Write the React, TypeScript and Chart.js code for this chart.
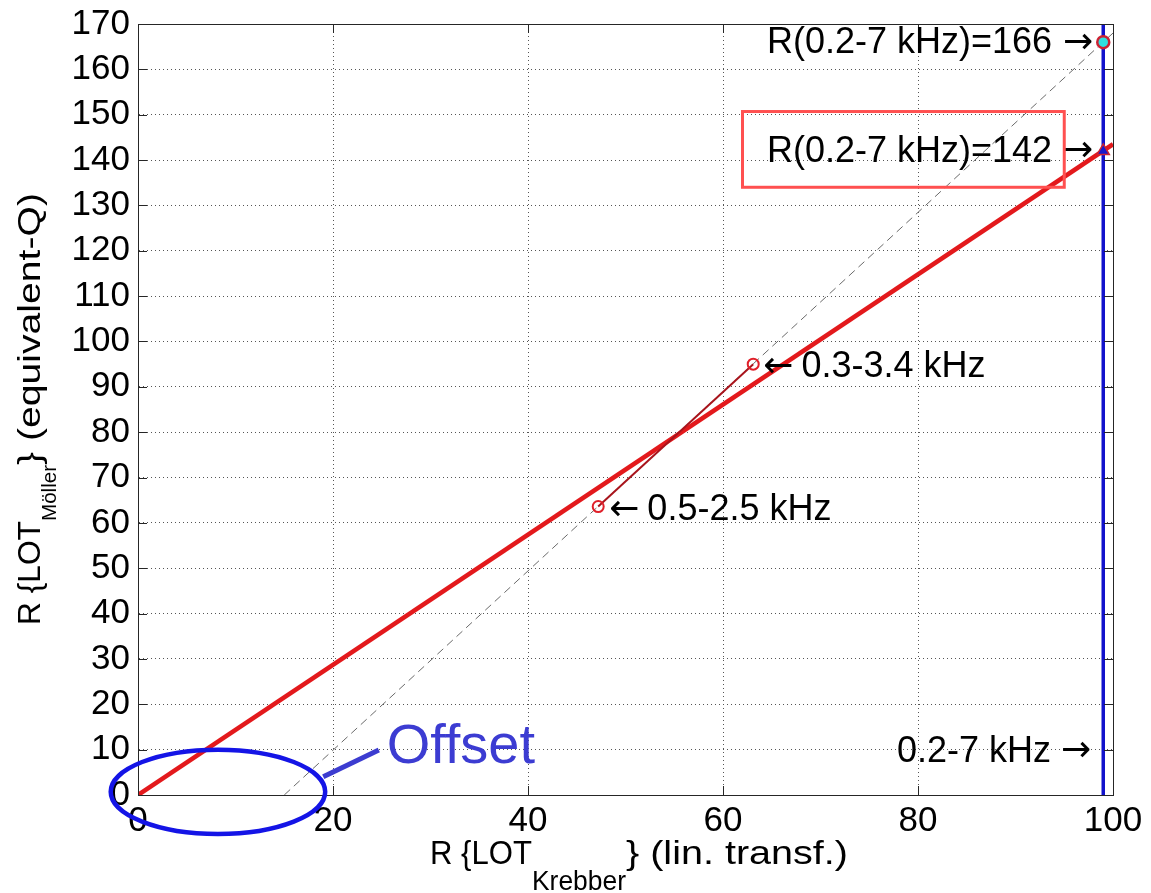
import React, { useEffect, useRef } from 'react';
import { Chart, registerables } from 'chart.js';

Chart.register(...registerables);

// ---------- data ----------
const X_TICKS = [0, 20, 40, 60, 80, 100];
const Y_TICKS = [0, 10, 20, 30, 40, 50, 60, 70, 80, 90, 100, 110, 120, 130, 140, 150, 160, 170];

// linear-transform fit line (red, thick)
const FIT_X = [0, 100];
const FIT_Y = [0, 143.5];

// dashed reference line
const DIAG_X = [15, 100];
const DIAG_Y = [0, 168];

// band-limited conditions
const BAND_LABELS = ['0.5-2.5 kHz', '0.3-3.4 kHz'];
const BAND_X = [47.2, 63.1];
const BAND_Y = [63.6, 95];

// wideband condition
const WB_LABEL = '0.2-7 kHz';
const WB_X = 99;
const WB_LINE_Y = [0, 170];
const WB_EQQ = 166;
const WB_LIN = 142;

// ---------- styling ----------
const FONT = '"Liberation Sans", Arial, Helvetica, sans-serif';
const ARROW_FONT = '"DejaVu Sans", sans-serif';

const overlayPlugin = {
  id: 'overlay',
  afterDraw(chart: any) {
    const { ctx, chartArea: a, scales } = chart;
    const xs = scales.x;
    const ys = scales.y;
    const px = (v: number) => xs.getPixelForValue(v);
    const py = (v: number) => ys.getPixelForValue(v);
    ctx.save();
    ctx.setLineDash([]);

    // axes box
    ctx.strokeStyle = '#262626';
    ctx.lineWidth = 1;
    ctx.strokeRect(Math.round(a.left) + 0.5, Math.round(a.top) + 0.5, Math.round(a.right - a.left), Math.round(a.bottom - a.top));

    // inward tick marks
    ctx.beginPath();
    X_TICKS.forEach((v) => {
      const p = Math.round(px(v)) + 0.5;
      ctx.moveTo(p, a.bottom); ctx.lineTo(p, a.bottom - 9);
      ctx.moveTo(p, a.top); ctx.lineTo(p, a.top + 9);
    });
    Y_TICKS.forEach((v) => {
      const p = Math.round(py(v)) + 0.5;
      ctx.moveTo(a.left, p); ctx.lineTo(a.left + 9, p);
      ctx.moveTo(a.right, p); ctx.lineTo(a.right - 9, p);
    });
    ctx.stroke();

    // annotation texts (text parts + arrow glyphs)
    ctx.fillStyle = '#000';
    ctx.textBaseline = 'middle';
    ctx.textAlign = 'left';
    const TXT = `36px ${FONT}`;
    const ARW = `36px ${ARROW_FONT}`;
    const drawParts = (parts: { t: string; f: string; gap?: number }[], x: number, y: number, align: string) => {
      const ws = parts.map((p) => {
        ctx.font = p.f;
        return ctx.measureText(p.t).width + (p.gap || 0);
      });
      const total = ws.reduce((s, w) => s + w, 0);
      let cx = align === 'right' ? x - total : x;
      parts.forEach((p, i) => {
        ctx.font = p.f;
        ctx.fillText(p.t, cx, y);
        cx += ws[i];
      });
    };
    drawParts([{ t: `R(${WB_LABEL})=${WB_EQQ}`, f: TXT, gap: 11 }, { t: '→', f: ARW }], px(WB_X) - 10, py(WB_EQQ) + 1, 'right');
    drawParts([{ t: `R(${WB_LABEL})=${WB_LIN}`, f: TXT, gap: 11 }, { t: '→', f: ARW }], px(WB_X) - 10, py(WB_LIN) + 1, 'right');
    drawParts([{ t: '←', f: ARW, gap: 8 }, { t: BAND_LABELS[1], f: TXT }], px(BAND_X[1]) + 10, py(BAND_Y[1]) + 3, 'left');
    drawParts([{ t: '←', f: ARW, gap: 8 }, { t: BAND_LABELS[0], f: TXT }], px(BAND_X[0]) + 11, py(BAND_Y[0]) + 4, 'left');
    drawParts([{ t: WB_LABEL, f: TXT, gap: 10 }, { t: '→', f: ARW }], px(WB_X) - 12, py(10) + 2, 'right');

    // highlight box around the 142 label
    ctx.strokeStyle = '#ff5050';
    ctx.lineWidth = 3;
    const bx0 = px(62.0), bx1 = px(95.0), by0 = py(150.7), by1 = py(134.0);
    ctx.strokeRect(bx0, by0, bx1 - bx0, by1 - by0);

    // "Offset" ellipse, connector and label
    const ecx = px(8.2), ecy = py(0.7);
    const erx = px(8.2 + 11) - ecx;
    const ery = ecy - py(0.7 + 9.3);
    ctx.strokeStyle = '#1414e6';
    ctx.lineWidth = 4.5;
    ctx.beginPath();
    ctx.ellipse(ecx, ecy, erx, ery, 0, 0, Math.PI * 2);
    ctx.stroke();

    ctx.strokeStyle = '#3c3cd0';
    ctx.lineWidth = 5;
    ctx.beginPath();
    ctx.moveTo(px(19.0), py(4.0));
    ctx.lineTo(px(24.7), py(9.9));
    ctx.stroke();

    ctx.fillStyle = '#3c3cd2';
    ctx.font = `56px ${FONT}`;
    ctx.textAlign = 'left';
    ctx.textBaseline = 'middle';
    ctx.fillText('Offset', px(25.5), py(10.4));

    // axis titles with subscripts (each part stretched to its measured length)
    const drawRich = (parts: { t: string; size: number; dy: number; len: number }[]) => {
      let cx = 0;
      parts.forEach((p) => {
        ctx.font = `${p.size}px ${FONT}`;
        const w = ctx.measureText(p.t).width;
        ctx.save();
        ctx.translate(cx, p.dy);
        ctx.scale(p.len / w, 1);
        ctx.fillText(p.t, 0, 0);
        ctx.restore();
        cx += p.len;
      });
    };
    ctx.fillStyle = '#000';
    ctx.textAlign = 'left';
    ctx.textBaseline = 'alphabetic';

    ctx.save();
    ctx.translate(430, 864);
    drawRich([
      { t: 'R {LOT', size: 33, dy: 0, len: 102 },
      { t: 'Krebber', size: 27, dy: 26, len: 94 },
      { t: '} (lin. transf.)', size: 33, dy: 0, len: 222 },
    ]);
    ctx.restore();

    ctx.save();
    ctx.translate(40, 625);
    ctx.rotate(-Math.PI / 2);
    drawRich([
      { t: 'R {LOT', size: 32, dy: 0, len: 104 },
      { t: 'Möller', size: 21, dy: 16, len: 56 },
      { t: '} (equivalent-Q)', size: 32, dy: 0, len: 272 },
    ]);
    ctx.restore();

    ctx.restore();
  },
};

export default function App() {
  const ref = useRef<HTMLCanvasElement | null>(null);

  useEffect(() => {
    if (!ref.current) return;
    const pts = (xs: number[], ys: number[]) => xs.map((x, i) => ({ x, y: ys[i] }));
    const chart = new Chart(ref.current, {
      type: 'scatter',
      data: {
        datasets: [
          {
            label: 'reference',
            data: pts(DIAG_X, DIAG_Y),
            showLine: true,
            borderColor: '#6a6a6a',
            borderWidth: 1,
            borderDash: [8, 5],
            pointRadius: 0,
            order: 6,
          },
          {
            label: 'fit',
            data: pts(FIT_X, FIT_Y),
            showLine: true,
            borderColor: '#e3191c',
            borderWidth: 4.5,
            pointRadius: 0,
            order: 5,
          },
          {
            label: 'wideband',
            data: WB_LINE_Y.map((y) => ({ x: WB_X, y })),
            showLine: true,
            borderColor: '#1212cc',
            borderWidth: 3.5,
            pointRadius: 0,
            order: 4,
          },
          {
            label: 'bands',
            data: pts(BAND_X, BAND_Y),
            showLine: true,
            borderColor: '#a8141c',
            borderWidth: 2,
            pointRadius: 5.5,
            pointBorderWidth: 2,
            pointBorderColor: '#e0202a',
            pointBackgroundColor: 'rgba(255,255,255,0)',
            order: 2,
          },
          {
            label: 'eqQ',
            data: [{ x: WB_X, y: WB_EQQ }],
            pointRadius: 6,
            pointBorderWidth: 2.5,
            pointBorderColor: '#cc2233',
            pointBackgroundColor: '#30e0e0',
            order: 1,
          },
          {
            label: 'lin',
            data: [{ x: WB_X, y: WB_LIN }],
            pointStyle: 'triangle',
            pointRadius: 7,
            pointBorderWidth: 1.5,
            pointBorderColor: '#cc2233',
            pointBackgroundColor: '#1818cc',
            order: 1,
          },
        ],
      },
      options: {
        animation: false,
        responsive: false,
        maintainAspectRatio: false,
        devicePixelRatio: 1,
        layout: { padding: { left: 0, top: 24, right: 38, bottom: 0 } },
        plugins: { legend: { display: false }, tooltip: { enabled: false } },
        scales: {
          x: {
            type: 'linear',
            min: 0,
            max: 100,
            afterBuildTicks: (s: any) => {
              s.ticks = X_TICKS.map((v) => ({ value: v }));
            },
            afterFit: (s: any) => {
              s.height = 98;
              s.paddingLeft = 0;
              s.paddingRight = 0;
            },
            grid: { color: '#555', lineWidth: 1, drawTicks: false },
            border: { display: true, color: '#262626', width: 1, dash: [1, 3] },
            ticks: {
              color: '#000',
              font: { family: FONT, size: 35 },
              padding: 5,
              maxRotation: 0,
              autoSkip: false,
            },
          },
          y: {
            type: 'linear',
            min: 0,
            max: 170,
            afterBuildTicks: (s: any) => {
              s.ticks = Y_TICKS.map((v) => ({ value: v }));
            },
            afterFit: (s: any) => {
              s.width = 138;
              s.paddingTop = 0;
              s.paddingBottom = 0;
            },
            grid: { color: '#555', lineWidth: 1, drawTicks: false },
            border: { display: true, color: '#262626', width: 1, dash: [1, 3] },
            ticks: {
              color: '#000',
              font: { family: FONT, size: 35 },
              padding: 8,
              autoSkip: false,
            },
          },
        },
      },
      plugins: [overlayPlugin],
    } as any);
    return () => chart.destroy();
  }, []);

  return (
    <div style={{ position: 'fixed', left: 0, top: 0, width: 1151, height: 893, background: '#fff' }}>
      <canvas ref={ref} width={1151} height={893} style={{ display: 'block', width: 1151, height: 893 }} />
    </div>
  );
}
